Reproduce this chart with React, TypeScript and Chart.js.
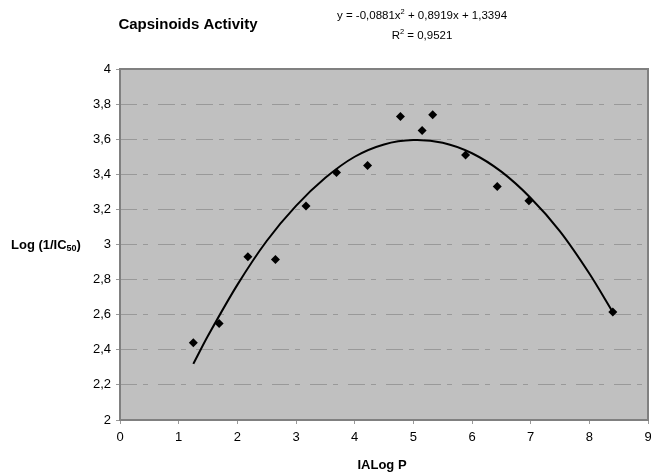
import React, { useEffect, useRef } from "react";
import { Chart, registerables } from "chart.js";

Chart.register(...registerables);

const logP: number[] = [1.25, 1.69, 2.18, 2.65, 3.17, 3.69, 4.22, 4.78, 5.15, 5.33, 5.89, 6.43, 6.97, 8.4];
const activity: number[] = [2.44, 2.55, 2.93, 2.915, 3.22, 3.41, 3.45, 3.73, 3.65, 3.74, 3.51, 3.33, 3.25, 2.615];

const trendX: number[] = [1.25, 1.5, 2, 2.5, 3, 3.5, 4, 4.5, 5, 5.5, 6, 6.5, 7, 7.5, 8, 8.4];
const trendY: number[] = [2.32, 2.48, 2.77, 3.02, 3.22, 3.38, 3.5, 3.57, 3.595, 3.58, 3.52, 3.415, 3.265, 3.075, 2.835, 2.615];

const titleText = "Capsinoids Activity";
const eqParts = ["y = -0,0881x", "2", " + 0,8919x + 1,3394"];
const r2Parts = ["R", "2", " = 0,9521"];
const xTitle = "IALog P";
const yTitleParts = ["Log (1/IC", "50", ")"];

const FONT = "'Liberation Sans', Arial, sans-serif";

export default function App() {
  const ref = useRef<HTMLCanvasElement | null>(null);

  useEffect(() => {
    if (!ref.current) return;

    const bgPlugin = {
      id: "plotbg",
      beforeDraw(chart: any) {
        const { ctx, chartArea: a } = chart;
        ctx.save();
        ctx.fillStyle = "#ffffff";
        ctx.fillRect(0, 0, chart.width, chart.height);
        ctx.fillStyle = "#c0c0c0";
        ctx.fillRect(a.left, a.top, a.right - a.left, a.bottom - a.top);
        ctx.restore();
      },
      beforeDatasetsDraw(chart: any) {
        const { ctx, chartArea: a } = chart;
        ctx.save();
        ctx.strokeStyle = "#808080";
        ctx.lineWidth = 2;
        ctx.strokeRect(a.left, a.top, a.right - a.left, a.bottom - a.top);
        ctx.restore();
      },
      afterDraw(chart: any) {
        const { ctx } = chart;
        ctx.save();
        ctx.fillStyle = "#000";
        ctx.textBaseline = "middle";
        // title
        ctx.font = `bold 15px ${FONT}`;
        ctx.textAlign = "center";
        ctx.fillText(titleText, 188, 25);

        // equation lines with superscript
        const drawSup = (parts: string[], cx: number, cy: number, size: number) => {
          ctx.font = `${size}px ${FONT}`;
          const w0 = ctx.measureText(parts[0]).width;
          const w2 = ctx.measureText(parts[2]).width;
          ctx.font = `${size * 0.65}px ${FONT}`;
          const w1 = ctx.measureText(parts[1]).width;
          const total = w0 + w1 + w2;
          let x = cx - total / 2;
          ctx.textAlign = "left";
          ctx.font = `${size}px ${FONT}`;
          ctx.fillText(parts[0], x, cy);
          x += w0;
          ctx.font = `${size * 0.65}px ${FONT}`;
          ctx.fillText(parts[1], x, cy - size * 0.35);
          x += w1;
          ctx.font = `${size}px ${FONT}`;
          ctx.fillText(parts[2], x, cy);
        };
        drawSup(eqParts, 422, 16, 11.5);
        drawSup(r2Parts, 422, 36, 11.5);

        // y title with subscript
        ctx.font = `bold 13px ${FONT}`;
        ctx.textAlign = "left";
        let x = 11;
        ctx.fillText(yTitleParts[0], x, 245);
        x += ctx.measureText(yTitleParts[0]).width;
        ctx.font = `bold 9px ${FONT}`;
        ctx.fillText(yTitleParts[1], x, 249);
        x += ctx.measureText(yTitleParts[1]).width;
        ctx.font = `bold 13px ${FONT}`;
        ctx.fillText(yTitleParts[2], x, 245);

        // x title
        ctx.font = `bold 13px ${FONT}`;
        ctx.textAlign = "center";
        ctx.fillText(xTitle, 382, 465);
        ctx.restore();
      },
    };

    const chart = new Chart(ref.current, {
      type: "scatter",
      data: {
        datasets: [
          {
            label: "Trend",
            data: trendX.map((x, i) => ({ x, y: trendY[i] })),
            showLine: true,
            borderColor: "#000",
            borderWidth: 2,
            pointRadius: 0,
            tension: 0.3,
            order: 2,
          },
          {
            label: "Capsinoids",
            data: logP.map((x, i) => ({ x, y: activity[i] })),
            pointStyle: "rectRot",
            pointRadius: 4.5,
            backgroundColor: "#000",
            borderColor: "#000",
            borderWidth: 0,
            order: 1,
          },
        ],
      },
      options: {
        animation: false,
        responsive: false,
        layout: { autoPadding: false, padding: { top: 69, right: 3, left: 0, bottom: 0 } } as any,
        plugins: { legend: { display: false }, tooltip: { enabled: false }, title: { display: false } },
        scales: {
          x: {
            type: "linear",
            min: 0,
            max: 9,
            ticks: { stepSize: 1, color: "#000", font: { family: FONT, size: 13 }, padding: 6 },
            grid: { drawOnChartArea: false, drawTicks: true, tickLength: 4, color: "#999" },
            border: { display: false },
            afterFit(s: any) {
              s.height = 53;
              s.paddingLeft = 0;
              s.paddingRight = 0;
            },
          },
          y: {
            type: "linear",
            min: 2,
            max: 4,
            ticks: {
              stepSize: 0.2,
              color: "#000",
              font: { family: FONT, size: 13 },
              padding: 5,
              callback: (v: any) => String(Number(Number(v).toFixed(1))).replace(".", ","),
            },
            grid: { color: "#999", lineWidth: 1, drawTicks: true, tickLength: 4, tickBorderDash: [] } as any,
            border: { display: false, dash: [17, 6, 5, 10] } as any,
            afterFit(s: any) {
              s.width = 120;
              s.paddingTop = 0;
              s.paddingBottom = 0;
            },
          },
        },
      },
      plugins: [bgPlugin],
    });
    return () => chart.destroy();
  }, []);

  return (
    <div style={{ position: "absolute", left: 0, top: 0, width: 651, height: 473 }}>
      <canvas ref={ref} width={651} height={473} style={{ display: "block" }} />
    </div>
  );
}
